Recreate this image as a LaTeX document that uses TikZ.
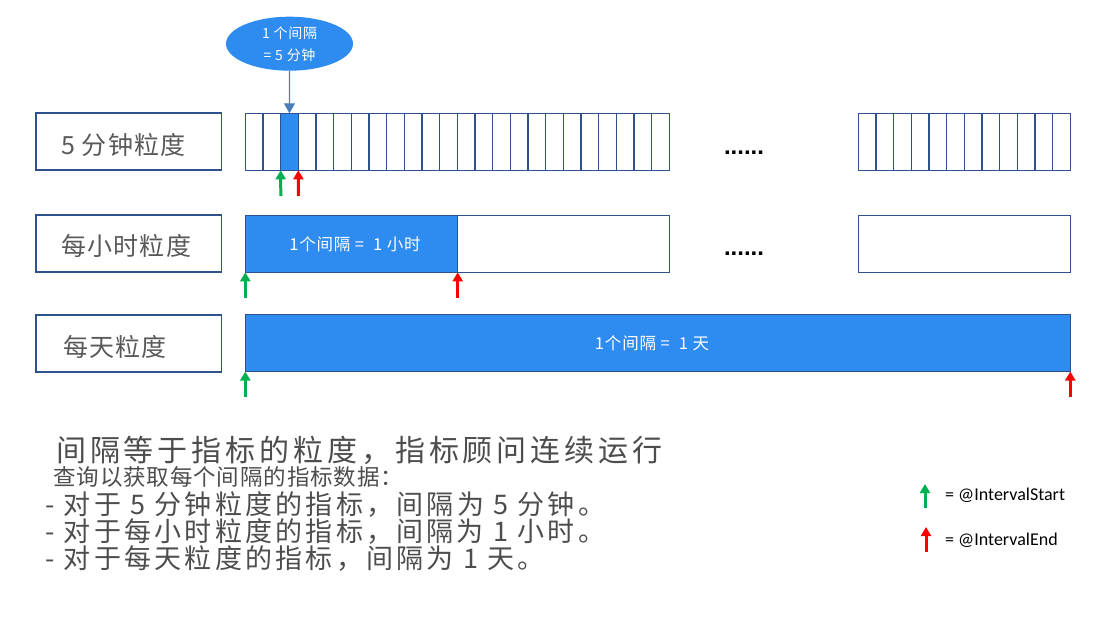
\documentclass[tikz,border=0pt]{standalone}
\usepackage{fontspec}
\setmainfont{Noto Sans CJK SC}
\newfontfamily\cjk{Noto Sans CJK SC}
\newfontfamily\cjktitle[LetterSpace=13]{Noto Sans CJK SC}
\newfontfamily\cjkwide[LetterSpace=12]{Noto Sans CJK SC}
\newfontfamily\cjkmid[LetterSpace=5]{Noto Sans CJK SC}
\newfontfamily\cjksub[LetterSpace=4]{Noto Sans CJK SC}
\newfontfamily\lat{Carlito}
\newfontfamily\dotf{Liberation Sans}
\usetikzlibrary{arrows.meta,shapes.geometric}
\definecolor{cellblue}{HTML}{2E8BEF}
\definecolor{edgeblue}{HTML}{2F528F}
\definecolor{labgrey}{HTML}{595959}
\definecolor{txtgrey}{HTML}{4D4D4D}
\definecolor{startgreen}{HTML}{00B050}
\definecolor{endred}{HTML}{FF0000}
\definecolor{callblue}{HTML}{4A7EBB}
\begin{document}
\begin{tikzpicture}[x=1pt,y=-1pt,
  cell/.style={draw=edgeblue,line width=1.2pt,minimum width=17.667pt,minimum height=57pt,inner sep=0pt,outer sep=0pt,anchor=north west},
  bar/.style={draw=edgeblue,line width=1.2pt,minimum height=57pt,inner sep=0pt,outer sep=0pt,anchor=north west},
  labbox/.style={draw=edgeblue,line width=1.2pt,minimum width=185.5pt,minimum height=57pt,inner sep=0pt,outer sep=0pt,anchor=north west},
  labtext/.style={anchor=west,inner sep=0pt,text=labgrey,font=\cjkmid\fontsize{25}{25}\selectfont},
  bartext/.style={text=white,font=\cjkmid\fontsize{16.5}{16.5}\selectfont},
  dots/.style={anchor=base,inner sep=0pt,font=\dotf\bfseries\fontsize{24}{24}\selectfont},
  startarr/.style={draw=startgreen,line width=3pt,-{Triangle[width=10pt,length=9pt]}},
  endarr/.style={draw=endred,line width=3pt,-{Triangle[width=10pt,length=9pt]}},
  callarr/.style={draw=callblue,line width=1.2pt,-{Triangle[width=11pt,length=10pt]}},
  bodytext/.style={anchor=west,inner sep=0pt,text=txtgrey},
  legtext/.style={anchor=west,inner sep=0pt,text=black,font=\lat\fontsize{18}{18}\selectfont}
]
\useasboundingbox (0,0) rectangle (1117,619);

% left labels
\node[labbox] (l1) at (36,113) {};
\node[labbox] (l2) at (36,215) {};
\node[labbox] (l3) at (36,315) {};
\node[labtext] (t1) at (61,145) {5 分钟粒度};
\node[labtext] (t2) at (61,246) {每小时粒度};
\node[labtext] (t3) at (63,347) {每天粒度};

% 5-minute row
\foreach \i in {1,...,24}{
  \node[cell] (a\i) at ({245.3+(\i-1)*17.667},113.3) {};
}
\node[cell,fill=cellblue] (hl) at (a3.north west) {};
\foreach \i in {1,...,12}{
  \node[cell] (b\i) at ({858.3+(\i-1)*17.667},113.3) {};
}
\node[dots] (dd1) at (744,154) {......};

% hourly row
\node[bar,fill=cellblue,minimum width=212.4pt] (h1) at (245.3,215.3) {};
\node[bartext] (h1t) at (355,244) {1个间隔 = \ 1 小时};
\node[bar,minimum width=211.6pt] (h2) at (h1.north east) {};
\node[bar,minimum width=212pt] (h3) at (858.3,215.3) {};
\node[dots] (dd2) at (744,255) {......};

% daily row
\node[bar,fill=cellblue,minimum width=825pt] (d1) at (245.3,314.5) {};
\node[bartext] (d1t) at (652,343) {1个间隔 = \ 1 天};

% callout
\node[ellipse,fill=cellblue,minimum width=127pt,minimum height=54pt,inner sep=0pt,align=center,
      text=white,font=\cjkmid\fontsize{14}{22}\selectfont] (call) at (289.5,43.7) {1\ 个间隔\\= 5 分钟};
\draw[callarr] (call.south) -- (hl.north);

% start / end arrows
\coordinate (s1) at (280.8,196);
\coordinate (e1) at (298.5,196);
\draw[startarr] (s1) -- (hl.south west);
\draw[endarr] (e1) -- (hl.south east);
\coordinate (s2) at (245.3,298);
\coordinate (e2) at (457.7,298);
\draw[startarr] (s2) -- (h1.south west);
\draw[endarr] (e2) -- (h1.south east);
\coordinate (s3) at (245.3,397);
\coordinate (e3) at (1070.3,397);
\draw[startarr] (s3) -- (d1.south west);
\draw[endarr] (e3) -- (d1.south east);

% bottom text
\node[bodytext,font=\cjktitle\fontsize{30}{30}\selectfont] (p0) at (56,450) {间隔等于指标的粒度，指标顾问连续运行};
\node[bodytext,font=\cjksub\fontsize{22.5}{22.5}\selectfont] (p1) at (53,477) {查询以获取每个间隔的指标数据：};
\node[bodytext,font=\cjkwide\fontsize{27}{27}\selectfont] (p2) at (45,505) {- 对于 5 分钟粒度的指标，间隔为 5 分钟。};
\node[bodytext,font=\cjkwide\fontsize{27}{27}\selectfont] (p3) at (45,532) {- 对于每小时粒度的指标，间隔为 1 小时。};
\node[bodytext,font=\cjkwide\fontsize{27}{27}\selectfont] (p4) at (45,559) {- 对于每天粒度的指标，间隔为 1 天。};

% legend
\coordinate (gs) at (925,508);
\coordinate (ge) at (925,484);
\draw[startarr] (gs) -- (ge);
\node[legtext] (lg1) at (945,495) {= @IntervalStart};
\coordinate (rs) at (926,552);
\coordinate (re) at (926,527);
\draw[endarr] (rs) -- (re);
\node[legtext] (lg2) at (945,540) {= @IntervalEnd};
\end{tikzpicture}
\end{document}
